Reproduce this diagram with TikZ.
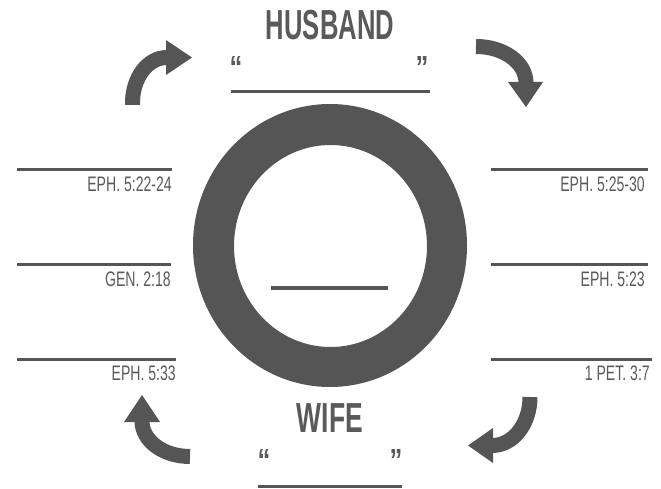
\documentclass[tikz,border=0pt]{standalone}
\usepackage{fontspec}
\setmainfont{Liberation Sans}
\definecolor{ink}{HTML}{555555}
\definecolor{txt}{HTML}{5A5A5A}
\begin{document}
\begin{tikzpicture}[x=1pt,y=-1pt,
  blank/.style={draw=ink,line width=3},
  ref/.style={anchor=base east,inner sep=0,text=txt,font=\fontsize{21}{21}\selectfont},
  title/.style={anchor=base,inner sep=0,text=txt,font=\fontsize{42}{42}\selectfont\bfseries},
  quote/.style={inner sep=0,text=txt,font=\fontsize{32}{32}\selectfont\bfseries},
  shaft/.style={draw=ink,line width=15},
  head/.style={fill=ink}]
\useasboundingbox (0,0) rectangle (661,489);
% ring
\fill[ink,even odd rule] (330,245.5) ellipse [x radius=137,y radius=141.5]
  (330.5,246) ellipse [x radius=96.5,y radius=101];
\coordinate (cl) at (271,288); \coordinate (cr) at (388,288);
\draw[draw=ink,line width=4] (cl) -- (cr);
% titles
\node[title] (husband) at (330,40) {\scalebox{0.61}[1]{HUSBAND}};
\node[title] (wife) at (330,432) {\scalebox{0.63}[1]{WIFE}};
\node[quote] (hq1) at (236,67) {\scalebox{0.8}[1]{“}};
\node[quote] (hq2) at (422,67) {\scalebox{0.8}[1]{”}};
\node[quote] (wq1) at (264,460) {\scalebox{0.8}[1]{“}};
\node[quote] (wq2) at (396,460) {\scalebox{0.8}[1]{”}};
\coordinate (h1) at (231,92); \coordinate (h2) at (430,92);
\draw[blank] (h1) -- (h2);
\coordinate (w1) at (258,486); \coordinate (w2) at (402,486);
\draw[blank] (w1) -- (w2);
% left lines
\coordinate (l1a) at (17,170); \coordinate (l1b) at (172,170);
\coordinate (l2a) at (17,264); \coordinate (l2b) at (171,264);
\coordinate (l3a) at (17,359); \coordinate (l3b) at (176,359);
\draw[blank] (l1a) -- (l1b); \draw[blank] (l2a) -- (l2b); \draw[blank] (l3a) -- (l3b);
\node[ref] (t1) at (172,191.5) {\scalebox{0.67}[1]{EPH. 5:22-24}};
\node[ref] (t2) at (171,286) {\scalebox{0.67}[1]{GEN. 2:18}};
\node[ref] (t3) at (176,380.5) {\scalebox{0.67}[1]{EPH. 5:33}};
% right lines
\coordinate (r1a) at (491,170); \coordinate (r1b) at (648,170);
\coordinate (r2a) at (491,264); \coordinate (r2b) at (648,264);
\coordinate (r3a) at (491,359); \coordinate (r3b) at (652,359);
\draw[blank] (r1a) -- (r1b); \draw[blank] (r2a) -- (r2b); \draw[blank] (r3a) -- (r3b);
\node[ref] (u1) at (645,191.5) {\scalebox{0.67}[1]{EPH. 5:25-30}};
\node[ref] (u2) at (645,286) {\scalebox{0.67}[1]{EPH. 5:23}};
\node[ref] (u3) at (650,380.5) {\scalebox{0.67}[1]{1 PET. 3:7}};
% arrows
\draw[shaft] (132.5,105) -- (132.5,103) .. controls (132.5,77.9) and (147.5,57.5) .. (167,57.5);
\fill[head] (166,40) -- (192,57.5) -- (166,75) -- cycle;
\draw[shaft] (476,46.5) .. controls (503.6,46.5) and (526,62.4) .. (526,83);
\fill[head] (508,82) -- (543,82) -- (526,107) -- cycle;
\draw[shaft] (190,456.5) .. controls (163.5,456.5) and (142,441) .. (142,421);
\fill[head] (124,422) -- (160,422) -- (142,395) -- cycle;
\draw[shaft] (530,397) .. controls (530,423.8) and (513.4,445.5) .. (492,445.5);
\fill[head] (493,428) -- (493,463) -- (468,445.5) -- cycle;
\end{tikzpicture}
\end{document}
